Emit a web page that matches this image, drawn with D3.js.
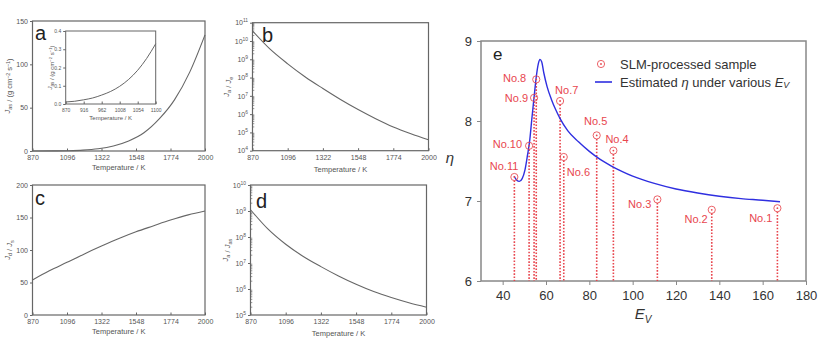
<!DOCTYPE html>
<html><head><meta charset="utf-8">
<script src="https://cdn.jsdelivr.net/npm/d3@7"></script>
<style>body{margin:0;background:#fff}svg{display:block}text{font-family:"Liberation Sans",Arial,sans-serif}</style>
</head><body><svg id="c" width="828" height="355"></svg>
<script>
// ---------- data ----------
const tempTicks = [870, 1096, 1322, 1548, 1774, 2000];
const insetTicks = [870, 916, 962, 1008, 1054, 1100];
// panel a: J_as (g cm^-2 s^-1)
const aT = [870, 1000, 1100, 1200, 1300, 1400, 1500, 1600, 1700, 1800, 1900, 2000];
const aV = [0.01, 0.09, 0.33, 1.0, 2.6, 5.8, 11.6, 21, 37, 59, 91, 134];
// inset of a
const insT = [870, 893, 916, 939, 962, 985, 1008, 1031, 1054, 1077, 1100];
const insV = [0.011, 0.015, 0.023, 0.033, 0.049, 0.069, 0.097, 0.135, 0.185, 0.25, 0.33];
// panel b (log10 values)
const bT = [870, 983, 1096, 1209, 1322, 1435, 1548, 1661, 1774, 1887, 2000];
const bLog = [10.55, 9.55, 8.75, 8.03, 7.4, 6.8, 6.25, 5.75, 5.3, 4.93, 4.6];
// panel c
const cT = [870, 980, 1096, 1210, 1322, 1440, 1548, 1660, 1774, 1890, 2000];
const cV = [54, 68, 81, 94, 106, 118, 128, 137, 146, 154, 160];
// panel d (log10 values)
const dT = [870, 983, 1096, 1209, 1322, 1435, 1548, 1661, 1774, 1887, 2000];
const dLog = [9.05, 8.3, 7.72, 7.25, 6.86, 6.5, 6.18, 5.9, 5.67, 5.47, 5.3];
// panel e
const sampleNames = ["No.1","No.2","No.3","No.4","No.5","No.6","No.7","No.8","No.9","No.10","No.11"];
const sampleEv = [166.8, 136.5, 111.4, 91.1, 83.4, 68.2, 66.5, 55.5, 54.5, 52.2, 45.4];
const sampleEta = [6.91, 6.89, 7.02, 7.63, 7.82, 7.55, 8.25, 8.52, 8.29, 7.69, 7.30];
const curveEv = [45.3, 46.5, 47.7, 49, 50.3, 51.5, 52.5, 53.4, 54.5, 55.5, 56.5, 57.2, 58, 59, 60.5, 62.5, 64.5, 66.5, 70, 75, 80, 85, 90, 95, 100, 110, 120, 130, 140, 150, 160, 168];
const curveEta = [7.31, 7.26, 7.245, 7.28, 7.39, 7.58, 7.76, 8.01, 8.3, 8.55, 8.72, 8.77, 8.74, 8.6, 8.43, 8.27, 8.14, 8.03, 7.88, 7.74, 7.62, 7.52, 7.44, 7.37, 7.31, 7.22, 7.15, 7.1, 7.06, 7.03, 7.01, 6.99];
const etaTicks = [6, 7, 8, 9];
const evTicks = [40, 60, 80, 100, 120, 140, 160, 180];

// ---------- layout / style ----------
const svg = d3.select("#c");
const AX = "#666", TXT = "#555", CURVE = "#666";
const RED = "#e8464e", BLUE = "#2f2fe0";
const labelOffsets = { // label placement relative to point (px)
  "No.1":[-5,10,"end"], "No.2":[-4,9,"end"], "No.3":[-6,5,"end"], "No.4":[-8,-12,"start"],
  "No.5":[-1,-14,"middle"], "No.6":[3,15,"start"], "No.7":[-5,-11,"start"], "No.8":[-10,-1,"end"],
  "No.9":[-6,0,"end"], "No.10":[-7,-2,"end"], "No.11":[4,-11,"end"]
};

function sup(sel, base, exp){ sel.text(base); sel.append("tspan").attr("dy",-3).attr("font-size","0.7em").text(exp); }

function panel(opt){
  const g = svg.append("g");
  const x = d3.scaleLinear().domain(opt.xd).range([opt.x0, opt.x1]);
  const y = d3.scaleLinear().domain(opt.yd).range([opt.y1, opt.y0]);
  g.append("rect").attr("x",opt.x0).attr("y",opt.y0).attr("width",opt.x1-opt.x0).attr("height",opt.y1-opt.y0)
   .attr("fill","#fff").attr("stroke",AX).attr("stroke-width",opt.sw||1.2);
  const fs = opt.fs || 7;
  const xa = g.append("g").attr("transform",`translate(0,${opt.y1})`)
    .call(d3.axisBottom(x).tickValues(opt.xt).tickSize(-2.5).tickFormat(d3.format("d")));
  xa.select(".domain").remove();
  xa.selectAll("line").attr("stroke",AX);
  xa.selectAll("text").attr("fill",TXT).attr("font-size",fs).attr("dy","0.9em");
  const ya = g.append("g").attr("transform",`translate(${opt.x0},0)`)
    .call(d3.axisLeft(y).tickValues(opt.yt).tickSize(2.5).tickPadding(2).tickFormat(opt.log ? "" : opt.yfmt));
  ya.select(".domain").remove();
  ya.selectAll("line").attr("stroke",AX);
  ya.selectAll("text").attr("fill",TXT).attr("font-size",fs);
  if (opt.log){
    ya.selectAll("text").each(function(d){ d3.select(this).text(""); sup(d3.select(this),"10",String(d)); });
    const minors = [];
    for (let e = opt.yd[0]; e < opt.yd[1]; e++) for (let k = 2; k <= 9; k++) minors.push(e + Math.log10(k));
    g.selectAll(null).data(minors).enter().append("line")
      .attr("x1",opt.x0).attr("x2",opt.x0+1.8).attr("y1",d=>y(d)).attr("y2",d=>y(d)).attr("stroke",AX).attr("stroke-width",0.7);
  }
  const pts = opt.xs.map((t,i)=>[t,opt.ys[i]]);
  g.append("path").datum(pts).attr("fill","none").attr("stroke",CURVE).attr("stroke-width",opt.cw||1.1)
    .attr("d", d3.line().x(d=>x(d[0])).y(d=>y(d[1])).curve(d3.curveMonotoneX));
  g.append("text").attr("x",(opt.x0+opt.x1)/2).attr("y",opt.xly).attr("text-anchor","middle")
    .attr("fill",TXT).attr("font-size",opt.lfs||7.5).text("Temperature / K");
  if (opt.ylab){
    const t = g.append("text").attr("transform",`translate(${opt.ylx},${(opt.y0+opt.y1)/2}) rotate(-90)`)
      .attr("text-anchor","middle").attr("fill",TXT).attr("font-size",opt.lfs||7.5);
    opt.ylab(t);
  }
  if (opt.letter){
    g.append("text").attr("x",opt.letter[1]).attr("y",opt.letter[2]).attr("font-size",20).attr("fill","#222").text(opt.letter[0]);
  }
  return g;
}
function sub(t, base, s){ t.append("tspan").attr("font-style","italic").text(base); t.append("tspan").attr("dy",2).attr("font-size","0.75em").text(s); t.append("tspan").attr("dy",-2).text(""); }
function unitLab(t, d){ sub(t,"J","as"); t.append("tspan").text(" / (g cm"); t.append("tspan").attr("dy",-d).attr("font-size","0.7em").text("−2"); t.append("tspan").attr("dy",d).text(" s"); t.append("tspan").attr("dy",-d).attr("font-size","0.7em").text("−1"); t.append("tspan").attr("dy",d).text(")"); }

// panel a
panel({x0:32.5,x1:205,y0:21,y1:151,xd:[870,2000],yd:[0,150],xt:tempTicks,yt:[0,50,100,150],yfmt:d3.format("d"),
  xs:aT,ys:aV,xly:170,ylx:10,letter:["a",35,40], ylab:t=>unitLab(t,2.5)});
// inset
panel({x0:65.7,x1:155.7,y0:31,y1:104,xd:[870,1100],yd:[0,0.4],xt:insetTicks,yt:[0,0.1,0.2,0.3,0.4],yfmt:d3.format(".1f"),
  xs:insT,ys:insV,xly:120,ylx:52,fs:5,lfs:6,sw:1,cw:1, ylab:t=>unitLab(t,2)});
// panel b
panel({x0:252.5,x1:428.5,y0:22.7,y1:150.7,xd:[870,2000],yd:[4,11],xt:tempTicks,yt:d3.range(4,12),log:true,
  xs:bT,ys:bLog,xly:172,ylx:229,letter:["b",262,42],
  ylab:t=>{ sub(t,"J","a"); t.append("tspan").text(" / "); sub(t,"J","e"); }});
// panel c
panel({x0:32.5,x1:205,y0:185,y1:315,xd:[870,2000],yd:[0,200],xt:tempTicks,yt:[0,50,100,150,200],yfmt:d3.format("d"),
  xs:cT,ys:cV,xly:334,ylx:10,letter:["c",35,205],
  ylab:t=>{ sub(t,"J","d"); t.append("tspan").text(" / "); sub(t,"J","s"); }});
// panel d
panel({x0:250.5,x1:426.5,y0:185,y1:315,xd:[870,2000],yd:[5,10],xt:tempTicks,yt:d3.range(5,11),log:true,
  xs:dT,ys:dLog,xly:336,ylx:228,letter:["d",256,208],
  ylab:t=>{ sub(t,"J","a"); t.append("tspan").text(" / "); sub(t,"J","as"); }});

// ---------- panel e ----------
const E = {x0:481, x1:806, y0:41, y1:281};
const xe = d3.scaleLinear().domain([30,180]).range([E.x0,E.x1]);
const ye = d3.scaleLinear().domain([6,9]).range([E.y1,E.y0]);
const ge = svg.append("g");
ge.append("rect").attr("x",E.x0).attr("y",E.y0).attr("width",E.x1-E.x0).attr("height",E.y1-E.y0)
  .attr("fill","none").attr("stroke","#888").attr("stroke-width",1.5);
const exa = ge.append("g").attr("transform",`translate(0,${E.y1})`).call(d3.axisBottom(xe).tickValues(evTicks).tickSize(4).tickPadding(6));
exa.select(".domain").remove(); exa.selectAll("line").attr("stroke","#888");
exa.selectAll("text").attr("fill","#333").attr("font-size",13);
const eya = ge.append("g").attr("transform",`translate(${E.x0},0)`).call(d3.axisLeft(ye).tickValues(etaTicks).tickSize(4).tickPadding(5).tickFormat(d3.format("d")));
eya.select(".domain").remove(); eya.selectAll("line").attr("stroke","#888");
eya.selectAll("text").attr("fill","#333").attr("font-size",13);
ge.append("text").attr("x",493).attr("y",60).attr("font-size",17).attr("fill","#222").text("e");
const evl = ge.append("text").attr("x",643).attr("y",319).attr("text-anchor","middle").attr("fill","#333").attr("font-size",15);
evl.append("tspan").attr("font-style","italic").text("E");
evl.append("tspan").attr("font-style","italic").attr("dy",4).attr("font-size",10).text("V");
ge.append("text").attr("x",450).attr("y",163).attr("text-anchor","middle").attr("fill","#333").attr("font-size",15).attr("font-style","italic").text("η");

const samples = sampleNames.map((n,i)=>({n, ev:sampleEv[i], eta:sampleEta[i]}));
ge.selectAll(null).data(samples).enter().append("line")
  .attr("x1",d=>xe(d.ev)).attr("x2",d=>xe(d.ev)).attr("y1",d=>ye(d.eta)+3.5).attr("y2",E.y1)
  .attr("stroke",RED).attr("stroke-width",1.6).attr("stroke-dasharray","1.6,1.6");
ge.append("path").datum(curveEv.map((v,i)=>[v,curveEta[i]])).attr("fill","none").attr("stroke",BLUE).attr("stroke-width",1.4)
  .attr("d", d3.line().x(d=>xe(d[0])).y(d=>ye(d[1])).curve(d3.curveMonotoneX));
function marker(sel){
  sel.append("circle").attr("r",3.6).attr("fill","none").attr("stroke",RED).attr("stroke-width",1).attr("opacity",0.85);
  sel.append("circle").attr("r",0.9).attr("fill",RED);
}
ge.selectAll(null).data(samples).enter().append("g")
  .attr("transform",d=>`translate(${xe(d.ev)},${ye(d.eta)})`).call(marker);
ge.selectAll(null).data(samples).enter().append("text")
  .attr("x",d=>xe(d.ev)+labelOffsets[d.n][0]).attr("y",d=>ye(d.eta)+labelOffsets[d.n][1])
  .attr("text-anchor",d=>labelOffsets[d.n][2]).attr("dominant-baseline","central")
  .attr("fill",RED).attr("font-size",11).text(d=>d.n);
ge.append("g").attr("transform","translate(601,64)").call(marker);
ge.append("text").attr("x",620).attr("y",64).attr("dominant-baseline","central").attr("fill","#333").attr("font-size",13).text("SLM-processed sample");
ge.append("line").attr("x1",595).attr("x2",612).attr("y1",82).attr("y2",82).attr("stroke",BLUE).attr("stroke-width",1.6);
const lt = ge.append("text").attr("x",620).attr("y",82).attr("dominant-baseline","central").attr("fill","#333").attr("font-size",13);
lt.append("tspan").text("Estimated ");
lt.append("tspan").attr("font-style","italic").text("η");
lt.append("tspan").text(" under various ");
lt.append("tspan").attr("font-style","italic").text("E");
lt.append("tspan").attr("font-style","italic").attr("font-size",9).attr("dy",3).text("V");
</script></body></html>
